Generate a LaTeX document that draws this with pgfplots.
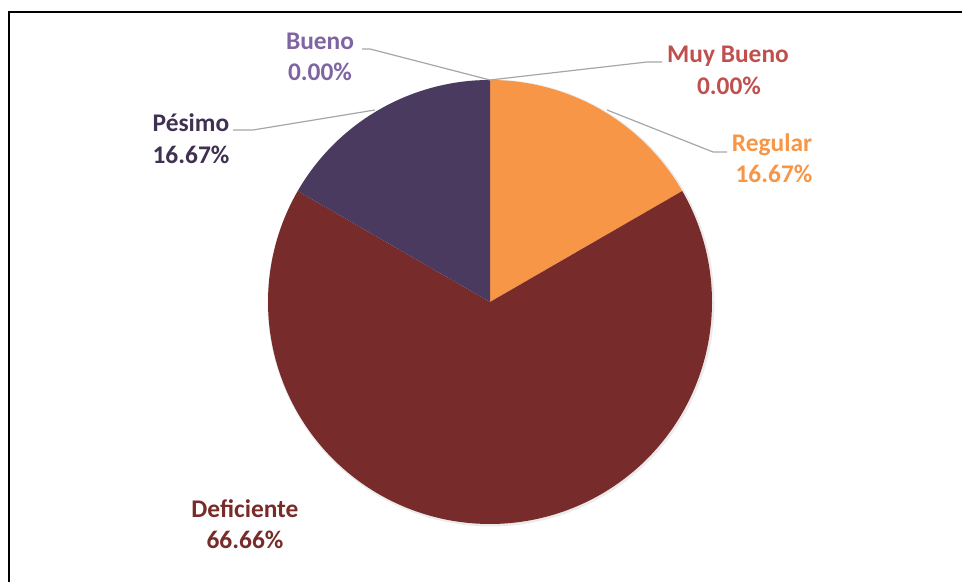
\documentclass[border=0pt]{standalone}
\usepackage{pgfplots}
\usepackage{pgfplotstable}
\usepackage{fontspec}
\setmainfont{Carlito}
\pgfplotsset{compat=1.18}
\definecolor{cReg}{HTML}{F79646}
\definecolor{cDef}{HTML}{772B2B}
\definecolor{cPes}{HTML}{4B3A5F}
\definecolor{tMB}{HTML}{C0504D}
\definecolor{tBu}{HTML}{8064A2}
\definecolor{tPes}{HTML}{403152}
\definecolor{tDef}{HTML}{772C2A}
\definecolor{lead}{HTML}{A6A6A6}
\pgfplotstableread{
label value
MuyBueno 0.00
Regular 16.67
Deficiente 66.66
Pesimo 16.67
Bueno 0.00
}\piedata
\tikzset{lab/.style={anchor=base, inner sep=0pt, font=\fontsize{12.7}{15}\selectfont\bfseries}}
\pgfplotstablegetelem{0}{value}\of\piedata\let\vMB\pgfplotsretval
\pgfplotstablegetelem{1}{value}\of\piedata\let\vReg\pgfplotsretval
\pgfplotstablegetelem{2}{value}\of\piedata\let\vDef\pgfplotsretval
\pgfplotstablegetelem{3}{value}\of\piedata\let\vPes\pgfplotsretval
\pgfplotstablegetelem{4}{value}\of\piedata\let\vBu\pgfplotsretval
\pgfmathsetmacro\aA{90-3.6*\vMB}
\pgfmathsetmacro\aB{\aA-3.6*\vReg}
\pgfmathsetmacro\aC{\aB-3.6*\vDef}
\pgfmathsetmacro\aD{\aC-3.6*\vPes}
\begin{document}%
\begin{tikzpicture}
\begin{axis}[
  scale only axis, width=481pt, height=291pt,
  xmin=0, xmax=962, ymin=0, ymax=582,
  hide axis, clip=false,
]
\coordinate (bbl) at (axis cs:0,0);
\coordinate (btr) at (axis cs:962,582);
% soft shadow
\addplot[draw=black!8, line width=2.5pt, domain=0:360, samples=180]
  ({491+221*cos(x)},{279+221*sin(x)});
% pie slices
\addplot[fill=cReg, draw=none, domain=\aB:\aA, samples=60]
  ({490+222*cos(x)},{280+222*sin(x)}) -- (axis cs:490,280) -- cycle;
\addplot[fill=cDef, draw=none, domain=\aC:\aB, samples=160]
  ({490+222*cos(x)},{280+222*sin(x)}) -- (axis cs:490,280) -- cycle;
\addplot[fill=cPes, draw=none, domain=\aD:\aC, samples=60]
  ({490+222*cos(x+360)},{280+222*sin(x+360)}) -- (axis cs:490,280) -- cycle;
% leader lines
\addplot[lead, line width=0.6pt] coordinates {(362,533) (370,533) (490,502)};
\addplot[lead, line width=0.6pt] coordinates {(662,520) (647,520) (490,502)};
\addplot[lead, line width=0.6pt] coordinates {(233,452) (253,452) (375,472)};
\addplot[lead, line width=0.6pt] coordinates {(727,430) (713,430) (607,472)};
% border
\addplot[black, line width=1pt] coordinates {(9,0) (9,569.5) (962,569.5)};
% labels
\node[lab, text=tBu] at (axis cs:320,532) {Bueno};
\node[lab, text=tBu] at (axis cs:320,501) {0.00\%};
\node[lab, text=tMB] at (axis cs:728,519) {Muy Bueno};
\node[lab, text=tMB] at (axis cs:729,487) {0.00\%};
\node[lab, text=tPes] at (axis cs:191,450) {Pésimo};
\node[lab, text=tPes] at (axis cs:191,418) {16.67\%};
\node[lab, text=cReg] at (axis cs:772,430) {Regular};
\node[lab, text=cReg] at (axis cs:774,399) {16.67\%};
\node[lab, text=tDef] at (axis cs:245,64) {Deficiente};
\node[lab, text=tDef] at (axis cs:245,33) {66.66\%};
\end{axis}
\pgfresetboundingbox
\useasboundingbox (bbl) rectangle (btr);
\end{tikzpicture}%
\end{document}
